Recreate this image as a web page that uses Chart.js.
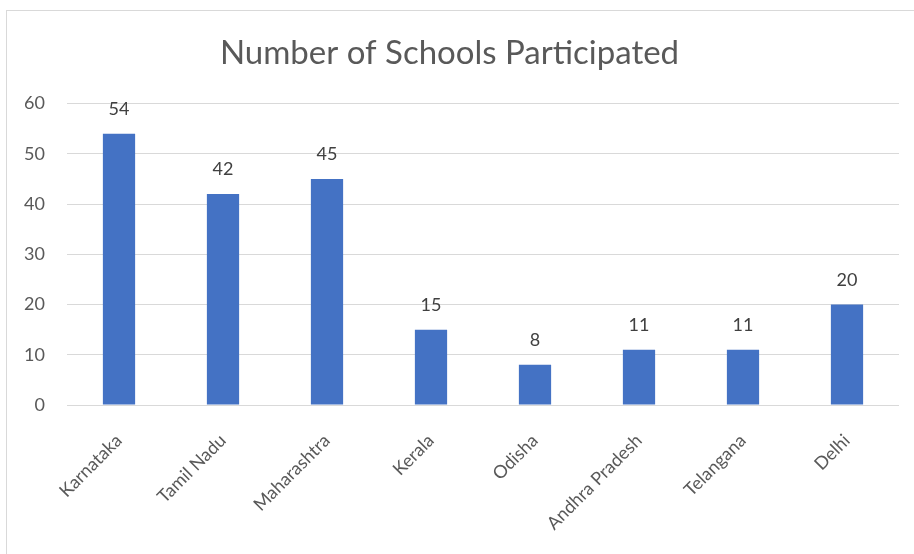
<!DOCTYPE html>
<html>
<head>
<meta charset="utf-8">
<script src="https://cdn.jsdelivr.net/npm/chart.js@4"></script>
<style>
  html, body { margin: 0; padding: 0; background: #fff; }
  #wrap { position: relative; width: 914px; height: 554px; }
  #frame {
    position: absolute; left: 6px; top: 10px; right: 0; bottom: 0;
    border-left: 1px solid #d9d9d9; border-top: 1px solid #d9d9d9;
    pointer-events: none;
  }
</style>
</head>
<body>
<div id="wrap">
  <canvas id="schoolsChart" width="914" height="554"></canvas>
  <div id="frame"></div>
</div>
<script>
const states = [
  "Karnataka",
  "Tamil Nadu",
  "Maharashtra",
  "Kerala",
  "Odisha",
  "Andhra Pradesh",
  "Telangana",
  "Delhi",
];
const schoolCounts = [54, 42, 45, 15, 8, 11, 11, 20];
const yTicks = [0, 10, 20, 30, 40, 50, 60];

const fontFamily = "Lato, 'Open Sans', sans-serif";
const gray = "#595959";

// Value labels drawn above each bar
const barLabels = {
  id: "barLabels",
  afterDatasetsDraw(chart) {
    const ctx = chart.ctx;
    const meta = chart.getDatasetMeta(0);
    ctx.save();
    ctx.font = "18px " + fontFamily;
    ctx.fillStyle = "#404040";
    ctx.textAlign = "center";
    ctx.textBaseline = "alphabetic";
    meta.data.forEach((bar, i) => {
      ctx.fillText(String(schoolCounts[i]), bar.x, bar.y - 19);
    });
    ctx.restore();
  },
};

new Chart(document.getElementById("schoolsChart"), {
  type: "bar",
  data: {
    labels: states,
    datasets: [
      {
        label: "Schools",
        data: schoolCounts,
        backgroundColor: "#4472c4",
        categoryPercentage: 1,
        barPercentage: 0.31,
      },
    ],
  },
  options: {
    responsive: false,
    animation: false,
    layout: { padding: { left: 0, right: 15, top: 0, bottom: 0 } },
    scales: {
      x: {
        grid: { display: false },
        border: { display: false },
        ticks: {
          color: gray,
          font: { family: fontFamily, size: 18 },
          minRotation: 45,
          maxRotation: 45,
          padding: 17,
          autoSkip: false,
        },
        afterFit: (scale) => {
          scale.height = 554 - 405;
        },
      },
      y: {
        min: 0,
        max: 60,
        afterBuildTicks: (scale) => {
          scale.ticks = yTicks.map((v) => ({ value: v }));
        },
        grid: { color: "#d9d9d9", lineWidth: 1, drawTicks: false },
        border: { display: false },
        ticks: {
          color: gray,
          font: { family: fontFamily, size: 18 },
          padding: 22,
        },
        afterFit: (scale) => {
          scale.width = 67;
        },
      },
    },
    plugins: {
      legend: { display: false },
      tooltip: { enabled: false },
      title: {
        display: true,
        text: "Number of Schools Participated",
        color: gray,
        font: { family: fontFamily, size: 33, weight: "normal" },
        padding: { top: 34, bottom: 30 },
      },
    },
  },
  plugins: [barLabels],
});
</script>
</body>
</html>
